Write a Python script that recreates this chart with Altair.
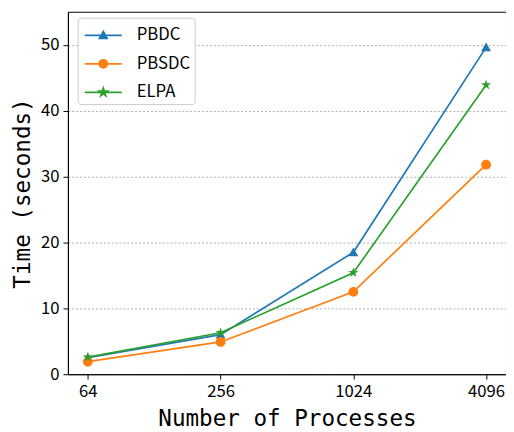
import re
import altair as alt
import pandas as pd

procs = ["64", "256", "1024", "4096"]
series = ["PBDC", "PBSDC", "ELPA"]
pbdc = [2.5, 6.0, 18.5, 49.6]
pbsdc = [1.9, 4.9, 12.5, 31.8]
elpa = [2.6, 6.3, 15.4, 43.9]
colors = ["#1f77b4", "#ff7f0e", "#2ca02c"]

rows = []
for name, vals in zip(series, [pbdc, pbsdc, elpa]):
    for p, v in zip(procs, vals):
        rows.append({"procs": p, "time": v, "series": name})
df = pd.DataFrame(rows)

tri = "M0,-1L1,0.8L-1,0.8Z"
circ = "M1,0A1,1 0 1,1 -1,0A1,1 0 1,1 1,0Z"
star = ("M0,-1L0.225,-0.309L0.951,-0.309L0.363,0.118L0.588,0.809L0,0.382"
        "L-0.588,0.809L-0.363,0.118L-0.951,-0.309L-0.225,-0.309Z")
marker_paths = [tri, circ, star]
marker_sizes = [100, 100, 120]


def scaled(path, s):
    return re.sub(r"-?\d+\.?\d*", lambda m: f"{float(m.group(0)) * s:.3f}", path)


LINE = "M-1.45,0L1.45,0"
leg_paths = [
    LINE + scaled(tri, 0.3),
    LINE + "M0.32,0A0.32,0.32 0 1,1 -0.32,0A0.32,0.32 0 1,1 0.32,0Z",
    LINE + scaled(star, 0.33),
]

x = alt.X("procs:N", sort=procs, scale=alt.Scale(type="point", padding=0.15),
          axis=alt.Axis(title="Number of Processes", labelAngle=0))
y = alt.Y("time:Q", scale=alt.Scale(domain=[0, 55], nice=False),
          axis=alt.Axis(title="Time (seconds)", values=[0, 10, 20, 30, 40, 50],
                        grid=True, gridDash=[2, 2], gridColor="#999999", gridWidth=0.8))

base = alt.Chart(df)
layers = []
for name, col, path, sz in zip(series, colors, marker_paths, marker_sizes):
    f = alt.datum.series == name
    layers.append(base.transform_filter(f).mark_line(strokeWidth=1.7, color=col).encode(x=x, y=y))
    layers.append(base.transform_filter(f).mark_point(
        filled=True, opacity=1, size=sz, shape=path, color=col).encode(x=x, y=y))

leg = base.transform_filter("false").mark_point(
    filled=True, opacity=1, size=676, strokeWidth=1.7).encode(
    x=x, y=y,
    color=alt.Color("series:N", scale=alt.Scale(domain=series, range=colors),
                    legend=alt.Legend(title=None)),
    stroke=alt.Stroke("series:N", scale=alt.Scale(domain=series, range=colors),
                      legend=alt.Legend(title=None)),
    shape=alt.Shape("series:N", scale=alt.Scale(domain=series, range=leg_paths),
                    legend=alt.Legend(title=None)))
layers.append(leg)

chart = alt.layer(*layers).properties(
    width=446, height=369,
    autosize=alt.AutoSizeParams(type="none"),
    padding={"left": 61, "top": 0, "right": 0, "bottom": 55},
).configure_view(stroke="black", strokeWidth=1).configure_axis(
    labelFont="Noto Sans CJK SC", labelFontSize=17, labelColor="black",
    titleFont="DejaVu Sans Mono", titleFontSize=23, titleFontWeight="normal", titleColor="black",
    domainColor="black", tickColor="black", tickSize=5,
).configure_axisX(titlePadding=8, labelPadding=5, grid=False).configure_axisY(
    titlePadding=6, labelPadding=4).configure_legend(
    orient="none", legendX=10, legendY=6, padding=4,
    strokeColor="#cccccc", fillColor="white", cornerRadius=3,
    labelFont="Noto Sans CJK SC", labelFontSize=17, labelColor="black",
    symbolSize=676, symbolStrokeWidth=1.7, rowPadding=7, labelOffset=20, symbolOffset=8,
)

chart.save("out.html", embed_options={"renderer": "svg", "actions": False})
